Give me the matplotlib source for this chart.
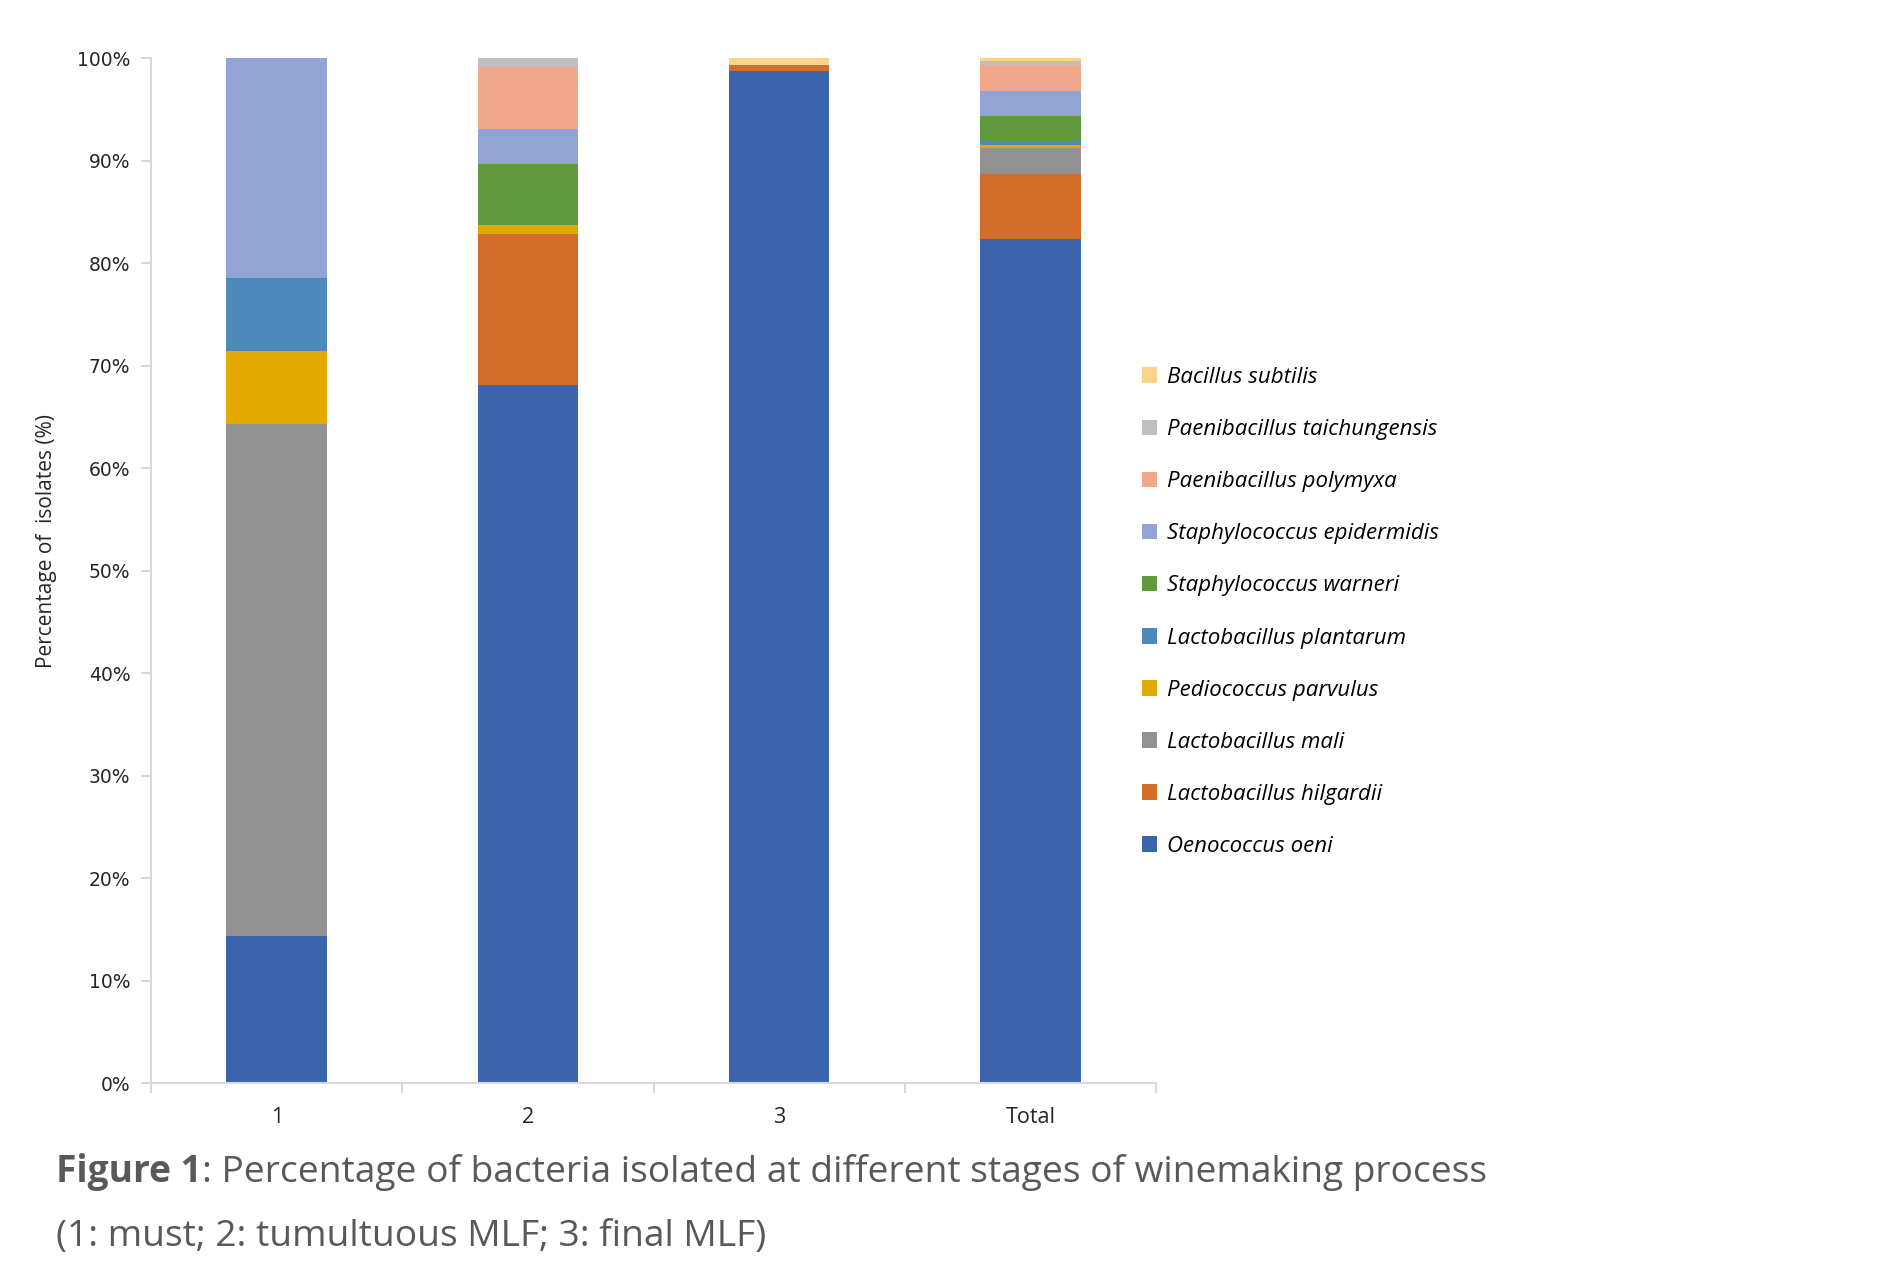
import matplotlib
matplotlib.use("Agg")
import matplotlib.pyplot as plt
from matplotlib.patches import Patch
import numpy as np

# Sampling stages
categories = ["1", "2", "3", "Total"]

# Percentage of isolates per species at each stage (bottom to top of stack)
species = [
    "Oenococcus oeni",
    "Lactobacillus hilgardii",
    "Lactobacillus mali",
    "Pediococcus parvulus",
    "Lactobacillus plantarum",
    "Staphylococcus warneri",
    "Staphylococcus epidermidis",
    "Paenibacillus polymyxa",
    "Paenibacillus taichungensis",
    "Bacillus subtilis",
]
oenococcus_oeni = [14.3, 68.1, 98.7, 82.3]
lactobacillus_hilgardii = [0.0, 14.7, 0.65, 6.4]
lactobacillus_mali = [50.0, 0.0, 0.0, 2.5]
pediococcus_parvulus = [7.1, 0.9, 0.0, 0.3]
lactobacillus_plantarum = [7.1, 0.0, 0.0, 0.4]
staphylococcus_warneri = [0.0, 6.0, 0.0, 2.4]
staphylococcus_epidermidis = [21.5, 3.4, 0.0, 2.5]
paenibacillus_polymyxa = [0.0, 6.0, 0.0, 2.5]
paenibacillus_taichungensis = [0.0, 0.9, 0.0, 0.4]
bacillus_subtilis = [0.0, 0.0, 0.65, 0.3]

series = [
    oenococcus_oeni, lactobacillus_hilgardii, lactobacillus_mali,
    pediococcus_parvulus, lactobacillus_plantarum, staphylococcus_warneri,
    staphylococcus_epidermidis, paenibacillus_polymyxa,
    paenibacillus_taichungensis, bacillus_subtilis,
]
colors = [
    "#3B64AC", "#D36E2A", "#929292", "#E2AA00", "#4E89BC",
    "#62993E", "#91A4D4", "#F0A78A", "#BFBFBF", "#FFD28A",
]

yticks = np.arange(0, 101, 10)
ytick_labels = [f"{v}%" for v in yticks]

fig = plt.figure(figsize=(18.98, 12.62), dpi=100)
ax = fig.add_axes([0.0796, 0.1418, 0.5295, 0.8122])

x = np.arange(len(categories))
bottom = np.zeros(len(categories))
for vals, col in zip(series, colors):
    vals = np.asarray(vals, dtype=float)
    ax.bar(x, vals, width=0.4, bottom=bottom, color=col, edgecolor="none")
    bottom += vals

ax.set_xlim(-0.5, len(categories) - 0.5)
ax.set_ylim(0, 100)

axis_gray = "#D9D9D9"
for side in ("top", "right"):
    ax.spines[side].set_visible(False)
for side in ("left", "bottom"):
    ax.spines[side].set_color(axis_gray)
    ax.spines[side].set_linewidth(1.5)

ax.set_yticks(yticks)
ax.set_yticklabels(ytick_labels, fontsize=13.5, color="#262626", family="DejaVu Sans")
ax.tick_params(axis="y", direction="out", length=7, width=1.5, color=axis_gray, pad=8)

# category labels centred under bars, separators between categories
ax.set_xticks(x)
ax.set_xticklabels(categories, fontsize=15.5, color="#262626", family="Open Sans")
ax.tick_params(axis="x", which="major", length=0, pad=17)
ax.set_xticks(np.arange(-0.5, len(categories)), minor=True)
ax.tick_params(axis="x", which="minor", direction="out", length=7, width=1.5, color=axis_gray)

fig.text(0.0245, 0.571, "Percentage of  isolates (%)", rotation=90, fontsize=15,
         color="#262626", family="Open Sans", ha="center", va="center")

handles = [Patch(facecolor=c, edgecolor="none") for c in colors][::-1]
labels = species[::-1]
fig.legend(handles, labels, loc="upper left", bbox_to_anchor=(0.591, 0.725),
           frameon=False, prop={"family": "Open Sans", "style": "italic", "size": 16},
           handlelength=0.7, handleheight=0.7, handletextpad=0.45, labelspacing=1.40)

cap_color = "#595959"
cap_font = "Open Sans"
cap_size = 26.7
bold_part = fig.text(0.0295, 0.0713, "Figure 1", fontsize=cap_size, fontweight="bold",
                     color=cap_color, family=cap_font, va="center")
fig.canvas.draw()
bb = bold_part.get_window_extent(fig.canvas.get_renderer())
fig.text(bb.x1 / fig.bbox.width, 0.0713,
         ": Percentage of bacteria isolated at different stages of winemaking process",
         fontsize=cap_size, color=cap_color, family=cap_font, va="center")
fig.text(0.0295, 0.020, "(1: must; 2: tumultuous MLF; 3: final MLF)",
         fontsize=cap_size, color=cap_color, family=cap_font, va="center")

fig.savefig("out.png", dpi=100, facecolor="white")
